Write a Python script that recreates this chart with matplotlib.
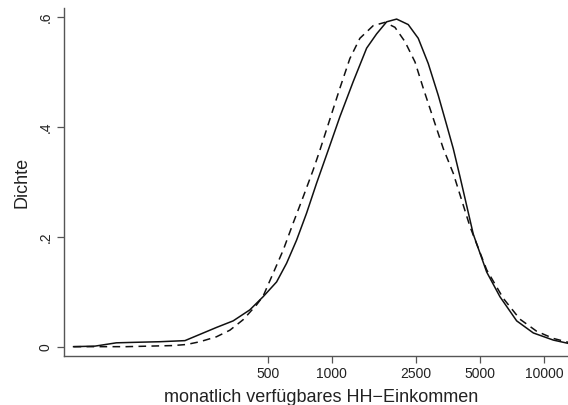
import numpy as np
import matplotlib.pyplot as plt
from matplotlib.ticker import FixedLocator, NullLocator

plt.rcParams['font.family'] = ['Liberation Sans', 'DejaVu Sans']

# kernel density, solid line
inc_solid = [61, 77, 97, 121, 155, 204, 249, 287, 344, 412, 476, 551, 614, 684,
             762, 850, 964, 1094, 1264, 1462, 1629, 1816, 2024, 2295, 2558, 2851,
             3178, 3481, 3739, 4021, 4645, 5372, 6203, 7436, 8905, 11060, 13000]
dens_solid = [0.0, 0.001, 0.007, 0.008, 0.009, 0.011, 0.025, 0.035, 0.047, 0.067,
              0.091, 0.118, 0.152, 0.194, 0.243, 0.298, 0.358, 0.419, 0.483, 0.544,
              0.570, 0.592, 0.597, 0.587, 0.562, 0.516, 0.458, 0.404, 0.361, 0.310,
              0.205, 0.136, 0.091, 0.047, 0.025, 0.012, 0.006]

# kernel density, dashed line
inc_dash = [61, 108, 179, 208, 240, 287, 332, 383, 443, 476, 531, 592, 659, 735,
            819, 881, 1094, 1219, 1359, 1570, 1783, 1987, 2214, 2469, 2701, 3010,
            3356, 3739, 4481, 5372, 6433, 7707, 9240, 11060, 13000]
dens_dash = [0.0, 0.0, 0.002, 0.004, 0.009, 0.018, 0.030, 0.049, 0.076, 0.092,
             0.134, 0.176, 0.225, 0.273, 0.322, 0.358, 0.471, 0.525, 0.562, 0.585,
             0.591, 0.582, 0.556, 0.519, 0.471, 0.416, 0.361, 0.316, 0.219, 0.140,
             0.088, 0.050, 0.028, 0.015, 0.008]

xticks = [500, 1000, 2500, 5000, 10000]
yticks = [0, 0.2, 0.4, 0.6]
ylabels = ['0', '.2', '.4', '.6']

fig = plt.figure(figsize=(5.68, 4.05), dpi=100)
ax = fig.add_axes([0.1127, 0.121, 0.8873, 0.859])

ax.plot(inc_solid, dens_solid, color='#111111', lw=1.1)
ax.plot(inc_dash, dens_dash, color='#111111', lw=1.1, dashes=(5, 3.5))

ax.set_xscale('log')
ax.set_xlim(55, 12970)
ax.set_ylim(-0.017, 0.617)

ax.xaxis.set_major_locator(FixedLocator(xticks))
ax.xaxis.set_minor_locator(NullLocator())
ax.set_xticklabels([str(t) for t in xticks])
ax.set_yticks(yticks)
ax.set_yticklabels(ylabels, rotation=90, va='center')

for s in ['top', 'right']:
    ax.spines[s].set_visible(False)
for s in ['left', 'bottom']:
    ax.spines[s].set_color('#555555')
    ax.spines[s].set_linewidth(1.0)

ax.tick_params(axis='both', length=5, width=0.9, color='#555555',
               labelsize=10, pad=3, labelcolor='#222222')

ax.set_xlabel('monatlich verfügbares HH\u2212Einkommen', fontsize=13,
              color='#222222', labelpad=5.5)
ax.xaxis.label.set_x(0.511)
ax.set_ylabel('Dichte', fontsize=13, color='#222222', labelpad=6)

fig.savefig('out.png', dpi=100)
